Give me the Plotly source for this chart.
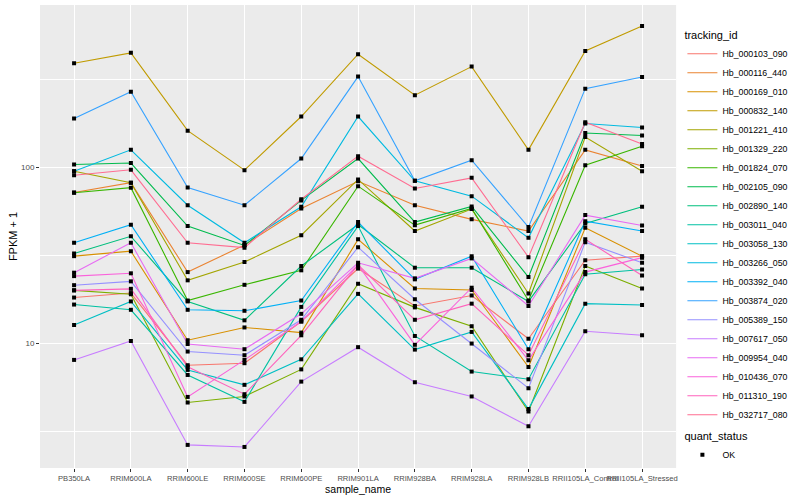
import plotly.graph_objects as go
import numpy as np

samples = ["PB350LA", "RRIM600LA", "RRIM600LE", "RRIM600SE", "RRIM600PE", "RRIM901LA",
           "RRIM928BA", "RRIM928LA", "RRIM928LB", "RRII105LA_Control", "RRII105LA_Stressed"]

tracking_ids = ["Hb_000103_090", "Hb_000116_440", "Hb_000169_010", "Hb_000832_140", "Hb_001221_410",
                "Hb_001329_220", "Hb_001824_070", "Hb_002105_090", "Hb_002890_140", "Hb_003011_040",
                "Hb_003058_130", "Hb_003266_050", "Hb_003392_040", "Hb_003874_020", "Hb_005389_150",
                "Hb_007617_050", "Hb_009954_040", "Hb_010436_070", "Hb_011310_190", "Hb_032717_080"]

colors = ["#F8766D", "#EA8331", "#D89000", "#C09B00", "#A3A500", "#7CAE00", "#39B600", "#00BB4E",
          "#00BF7D", "#00C1A3", "#00BFC4", "#00BAE0", "#00B0F6", "#35A2FF", "#9590FF", "#C77CFF",
          "#E76BF3", "#FA62DB", "#FF62BC", "#FF6C91"]

# FPKM + 1 per sample (order of `samples`)
hb_000103_090 = [18.2, 19.3, 7.5, 7.7, 13.3, 26.6, 16.3, 18.7, 10.6, 29.7, 31.3]
hb_000116_440 = [72, 82, 25.4, 36.2, 58.5, 83.5, 61, 50.7, 43.5, 126, 102]
hb_000169_010 = [31.3, 33.4, 10.4, 12.3, 11.5, 39, 20.5, 20.1, 7.33, 45.4, 31.3]
hb_000832_140 = [392, 449, 162, 96.6, 195, 441, 258, 375, 126, 460, 638]
hb_001221_410 = [95.3, 82, 22.8, 29, 41.2, 85.5, 43.5, 58, 19.2, 149, 95.3]
hb_001329_220 = [20, 19, 4.6, 4.98, 7.1, 21.8, 16, 12.5, 4.09, 27.5, 20.5]
hb_001824_070 = [71.8, 76.8, 17.5, 21.5, 26, 78.3, 47, 58.5, 17.5, 103, 132]
hb_002105_090 = [104, 106, 46.4, 36, 65, 112.5, 48.9, 60, 23.8, 157, 152]
hb_002890_140 = [32.4, 40.6, 17.3, 13.5, 27.5, 47.4, 26.9, 26.9, 17.3, 48, 59.8]
hb_003011_040 = [16.6, 15.5, 6.6, 4.64, 16.1, 46.4, 11, 6.9, 6.24, 24.7, 26.3]
hb_003058_130 = [12.7, 17.3, 7.05, 5.8, 8.1, 19.1, 9.2, 11.6, 4.22, 16.8, 16.5]
hb_003266_050 = [95.3, 126, 61, 37.3, 59.8, 195, 84, 68.7, 39.8, 178, 169]
hb_003392_040 = [37.3, 47.3, 15.5, 15.3, 17.5, 48.9, 23.1, 31.3, 9.25, 49.5, 43.5]
hb_003874_020 = [190, 270, 77, 61, 112.5, 329, 84, 110, 45.8, 281, 327]
hb_005389_150 = [21.4, 22.5, 8.97, 8.55, 13.6, 35.2, 17.8, 9.96, 5.55, 37.6, 28.7]
hb_007617_050 = [8.04, 10.3, 2.64, 2.57, 6.05, 9.5, 6.0, 4.98, 3.37, 11.7, 11.1]
hb_009954_040 = [25.2, 37.3, 9.9, 9.25, 14.7, 28.7, 23.4, 30.4, 16.3, 53.6, 46.8]
hb_010436_070 = [24.1, 25, 4.95, 8.04, 13.3, 27.9, 9.8, 20.7, 8.0, 25.4, 30.7]
hb_011310_190 = [20, 20.4, 7.35, 5.13, 11.1, 27.9, 13.6, 16.8, 8.55, 39, 24.3]
hb_032717_080 = [90.4, 97, 37.3, 35, 66, 116, 76, 87.3, 30.9, 181, 136]

series_values = [hb_000103_090, hb_000116_440, hb_000169_010, hb_000832_140, hb_001221_410,
                 hb_001329_220, hb_001824_070, hb_002105_090, hb_002890_140, hb_003011_040,
                 hb_003058_130, hb_003266_050, hb_003392_040, hb_003874_020, hb_005389_150,
                 hb_007617_050, hb_009954_040, hb_010436_070, hb_011310_190, hb_032717_080]

quant_status = "OK"

fig = go.Figure()
for tid, col, vals in zip(tracking_ids, colors, series_values):
    fig.add_trace(go.Scatter(x=samples, y=vals, mode="lines", name=tid,
                             line=dict(color=col, width=1.1), legend="legend",
                             hoverinfo="x+y+name"))

all_x = [s for vals in series_values for s in samples]
all_y = [v for vals in series_values for v in vals]
fig.add_trace(go.Scatter(x=all_x, y=all_y, mode="markers", name=quant_status,
                         marker=dict(symbol="square", size=4, color="black", line=dict(width=0)),
                         legend="legend2"))

logs = np.log10(all_y)
span = logs.max() - logs.min()
yr = [logs.min() - 0.05 * span, logs.max() + 0.05 * span]

fig.update_layout(
    width=800, height=500,
    margin=dict(l=40, r=117, t=5, b=32),
    paper_bgcolor="white", plot_bgcolor="#EBEBEB",
    font=dict(family="Liberation Sans, Arial, sans-serif", color="black"),
    xaxis=dict(type="category", range=[-0.6, len(samples) - 0.4],
               showgrid=True, gridcolor="white", gridwidth=1.1, zeroline=False,
               ticks="outside", ticklen=3, tickcolor="#333333", tickwidth=1,
               tickangle=0,
               tickfont=dict(family="Liberation Sans Narrow, Liberation Sans, sans-serif", size=7.6, color="#4D4D4D"),
               title=dict(text="sample_name", standoff=2,
                          font=dict(family="Liberation Sans Narrow, Liberation Sans, sans-serif", size=10.5, color="black"))),
    yaxis=dict(type="log", range=yr,
               tickvals=[10, 100], ticktext=["10", "100"],
               showgrid=True, gridcolor="white", gridwidth=1.1, zeroline=False,
               ticks="outside", ticklen=3, tickcolor="#333333", tickwidth=1,
               tickfont=dict(size=8, color="#4D4D4D"),
               minor=dict(tickmode="array", tickvals=[10 ** 0.5, 10 ** 1.5, 10 ** 2.5],
                          showgrid=True, gridcolor="white", gridwidth=0.55, ticks=""),
               title=dict(text="FPKM + 1", standoff=1, font=dict(size=11, color="black"))),
    legend=dict(title=dict(text="tracking_id", font=dict(size=11)),
                font=dict(size=8.8), xref="container", yref="container",
                x=0.853, y=0.95, xanchor="left", yanchor="top", maxheight=440,
                bgcolor="rgba(0,0,0,0)", itemwidth=30),
    legend2=dict(title=dict(text="quant_status", font=dict(size=11)),
                 font=dict(size=8.8), xref="container", yref="container",
                 x=0.853, y=0.148, xanchor="left", yanchor="top",
                 bgcolor="rgba(0,0,0,0)", itemwidth=30),
    showlegend=True,
)

fig.write_html("out.html", config={"displayModeBar": False},
               post_script="document.body.style.margin='0';")
